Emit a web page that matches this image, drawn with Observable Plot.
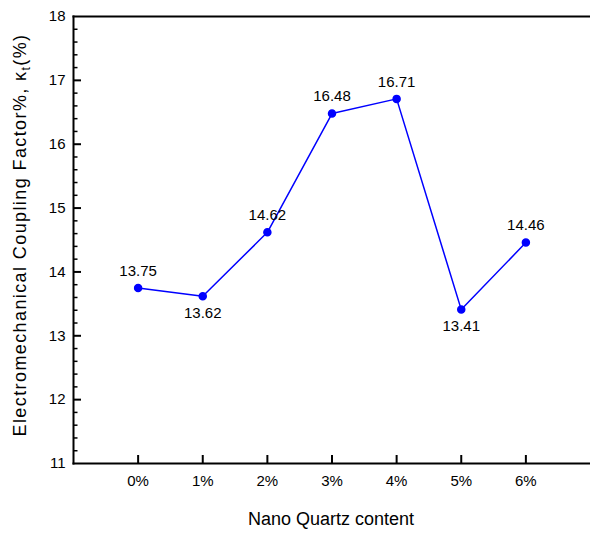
<!DOCTYPE html>
<html>
<head>
<meta charset="utf-8">
<script src="https://cdn.jsdelivr.net/npm/d3@7"></script>
<script src="https://cdn.jsdelivr.net/npm/@observablehq/plot@0.6"></script>
<style>
  html, body { margin: 0; padding: 0; background: #fff; }
</style>
</head>
<body>
<div id="chart"></div>
<script>
const categories = ["0%", "1%", "2%", "3%", "4%", "5%", "6%"];
const values = [13.75, 13.62, 14.62, 16.48, 16.71, 13.41, 14.46];
const labelBelow = [false, true, false, false, false, true, false];
const yTicks = [11, 12, 13, 14, 15, 16, 17, 18];
const xTitle = "Nano Quartz content";
const yTitle = "Electromechanical Coupling Factor%, κ";
const yTitleSub = "t";
const yTitleEnd = "(%)";

const data = categories.map((c, i) => ({i, c, v: values[i], below: labelBelow[i]}));
const minorTicks = d3.range(110, 181, 2).map(d => d / 10).filter(d => !yTicks.includes(d));
const majorInner = yTicks.slice(1, -1);
const positions = d3.range(categories.length);

const W = 590, H = 534, ML = 73, MR = 0, MT = 16, MB = 71;
const xDomain = [-1, 7], yDomain = [11, 18];
const pxX = (xDomain[1] - xDomain[0]) / (W - ML - MR);
const pxY = (yDomain[1] - yDomain[0]) / (H - MT - MB);

const chart = Plot.plot({
  width: W,
  height: H,
  marginLeft: ML,
  marginRight: MR,
  marginTop: MT,
  marginBottom: MB,
  style: {fontFamily: "Liberation Sans, Arial, sans-serif", fontSize: "14px", color: "#000"},
  x: {type: "linear", domain: xDomain},
  y: {domain: yDomain},
  marks: [
    Plot.axisY({ticks: yTicks, tickFormat: d => String(d), tickSize: 0, tickPadding: 8, label: null, fontSize: 15}),
    Plot.axisX({ticks: positions, tickFormat: i => categories[i], tickSize: 0, tickPadding: 12, label: null, fontSize: 15}),
    Plot.line(data, {x: "i", y: "v", stroke: "#0000ff", strokeWidth: 1.5}),
    Plot.dot(data, {x: "i", y: "v", r: 3.5, fill: "#0000ff", stroke: "#0000ff"}),
    Plot.text(data.filter(d => !d.below), {x: "i", y: "v", text: d => d.v.toFixed(2), dy: -17, fontSize: 15, fill: "#000"}),
    Plot.text(data.filter(d => d.below), {x: "i", y: "v", text: d => d.v.toFixed(2), dy: 17, fontSize: 15, fill: "#000"}),
    Plot.frame({anchor: "left", stroke: "#000", strokeWidth: 2}),
    Plot.frame({anchor: "bottom", stroke: "#000", strokeWidth: 2}),
    Plot.frame({anchor: "top", stroke: "#000", strokeWidth: 2}),
    Plot.ruleY(majorInner, {y: d => d, x1: xDomain[0], x2: xDomain[0] + 8 * pxX, stroke: "#000", strokeWidth: 2}),
    Plot.ruleY(minorTicks, {y: d => d, x1: xDomain[0], x2: xDomain[0] + 4.5 * pxX, stroke: "#000", strokeWidth: 1.5}),
    Plot.ruleX(positions, {x: d => d, y1: yDomain[0], y2: yDomain[0] + 8 * pxY, stroke: "#000", strokeWidth: 2})
  ]
});

const svg = d3.select(chart);
svg.append("text")
  .attr("x", 331).attr("y", 525)
  .attr("text-anchor", "middle")
  .attr("font-size", 18)
  .attr("fill", "#000")
  .text(xTitle);

const yt = svg.append("text")
  .attr("transform", "translate(26,235) rotate(-90)")
  .attr("text-anchor", "middle")
  .attr("font-size", 18)
  .attr("letter-spacing", 1.4)
  .attr("fill", "#000");
yt.append("tspan").text(yTitle);
yt.append("tspan").attr("font-size", 12).attr("dy", 4).text(yTitleSub);
yt.append("tspan").attr("dy", -4).text(yTitleEnd);

document.getElementById("chart").appendChild(chart);
</script>
</body>
</html>
